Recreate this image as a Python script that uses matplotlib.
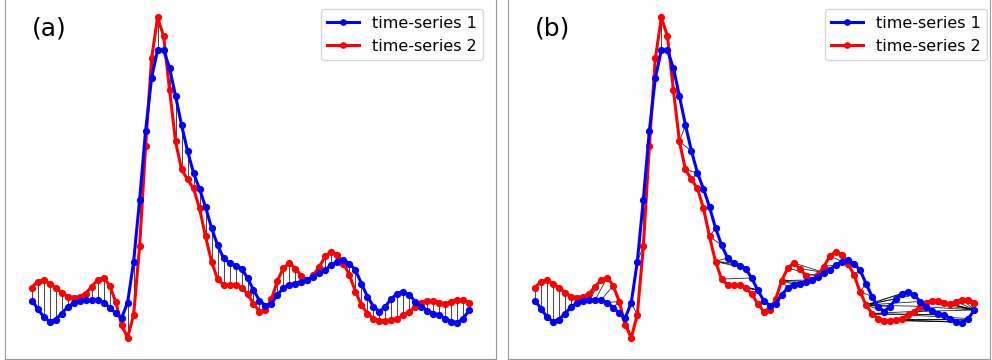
import numpy as np
import matplotlib
matplotlib.use("Agg")
import matplotlib.pyplot as plt

# series (74 puntos cada una)
serie1 = [-0.01, -0.17, -0.34, -0.43, -0.39, -0.27, -0.14, -0.06, -0.02, 0.00,
          0.00, 0.00, -0.05, -0.15, -0.26, -0.36, -0.05, 0.76, 2.00, 3.38,
          4.44, 5.00, 5.00, 4.64, 4.08, 3.50, 2.98, 2.54, 2.22, 1.86,
          1.44, 1.10, 0.84, 0.74, 0.69, 0.63, 0.44, 0.20, -0.01, -0.11,
          -0.07, 0.10, 0.25, 0.31, 0.33, 0.37, 0.40, 0.47, 0.55, 0.61,
          0.70, 0.77, 0.80, 0.73, 0.60, 0.33, 0.07, -0.13, -0.23, -0.13,
          0.03, 0.13, 0.17, 0.10, -0.03, -0.13, -0.21, -0.27, -0.30, -0.37,
          -0.43, -0.45, -0.37, -0.20]
serie2 = [0.25, 0.37, 0.40, 0.33, 0.25, 0.15, 0.07, 0.05, 0.07, 0.13,
          0.27, 0.40, 0.45, 0.29, -0.03, -0.50, -0.75, -0.30, 1.07, 3.07,
          4.83, 5.65, 5.28, 4.20, 3.17, 2.61, 2.41, 2.23, 1.83, 1.27,
          0.77, 0.42, 0.30, 0.30, 0.30, 0.25, 0.12, -0.07, -0.23, -0.20,
          0.02, 0.39, 0.64, 0.74, 0.63, 0.48, 0.40, 0.50, 0.67, 0.88,
          0.97, 0.90, 0.73, 0.50, 0.17, -0.10, -0.27, -0.37, -0.41, -0.41,
          -0.40, -0.37, -0.30, -0.23, -0.13, -0.05, -0.01, -0.01, -0.05, -0.08,
          -0.03, 0.01, 0.00, -0.05]
etiquetas = ["time-series 1", "time-series 2"]
paneles = ["(a)", "(b)"]


# camino DTW entre las dos series (distancia absoluta)
def dtw_camino(a, b):
    n, m = len(a), len(b)
    D = np.full((n + 1, m + 1), np.inf)
    D[0, 0] = 0
    for i in range(1, n + 1):
        for j in range(1, m + 1):
            c = abs(a[i - 1] - b[j - 1])
            D[i, j] = c + min(D[i - 1, j], D[i, j - 1], D[i - 1, j - 1])
    i, j = n, m
    camino = [(i - 1, j - 1)]
    while i > 1 or j > 1:
        opciones = [D[i - 1, j - 1], D[i - 1, j], D[i, j - 1]]
        k = int(np.argmin(opciones))
        if k == 0:
            i, j = i - 1, j - 1
        elif k == 1:
            i = i - 1
        else:
            j = j - 1
        camino.append((i - 1, j - 1))
    return camino[::-1]


x = np.arange(len(serie1))
euclid = [(i, i) for i in x]
dtw = dtw_camino(serie1, serie2)

fig = plt.figure(figsize=(9.92, 3.6), dpi=100)
# posicion de cada panel, limites x y ancla de la leyenda
config = [
    ([5.3 / 992, 0.7 / 360, 490.7 / 992, 360.3 / 360], (-4.4, 77.45), 0.974),
    ([508.3 / 992, 0.7 / 360, 481.7 / 992, 360.3 / 360], (-4.43, 75.6), 0.9944),
]

for (pos, lims, anc), nombre, pares in zip(config, paneles, [euclid, dtw]):
    ax = fig.add_axes(pos)
    # lineas de emparejamiento
    for i, j in pares:
        ax.plot([i, j], [serie1[i], serie2[j]], color="k", lw=0.6, alpha=0.85, zorder=1)
    ax.plot(x, serie1, "-o", color="blue", lw=2.2, ms=4.2, label=etiquetas[0], zorder=3)
    ax.plot(x, serie2, "-o", color="red", lw=2.2, ms=4.2, label=etiquetas[1], zorder=2)
    ax.set_xlim(*lims)
    ax.set_ylim(-1.186, 6.02)
    ax.set_xticks([])
    ax.set_yticks([])
    for s in ax.spines.values():
        s.set_color("#999999")
    ax.text(26.7 / (pos[2] * 992), 0.918, nombre, transform=ax.transAxes,
            fontsize=18, va="center", ha="left")
    ax.legend(loc="upper right", bbox_to_anchor=(anc, 0.971), borderaxespad=0,
              fontsize=11.5, markerscale=0.9)

fig.savefig("out.png", dpi=100)
